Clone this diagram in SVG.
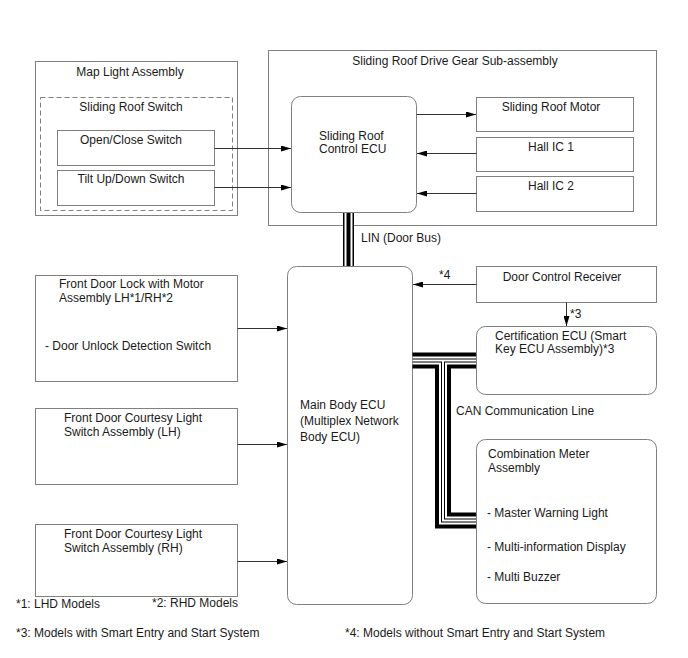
<svg xmlns="http://www.w3.org/2000/svg" width="688" height="658" viewBox="0 0 688 658">
<defs>
<marker id="ah" markerUnits="userSpaceOnUse" markerWidth="10" markerHeight="6" refX="10" refY="3" orient="auto">
<path d="M0,0 L10,3 L0,6 z" fill="#000"/>
</marker>
<style>
text{font-family:"Liberation Sans",Arial,sans-serif;font-size:12px;fill:#1a1a1a}
.box{fill:#fff;stroke:#808080;stroke-width:1}
.dash{fill:none;stroke:#808080;stroke-width:1;stroke-dasharray:5,3}
.c{text-anchor:middle}
.arr{fill:none;stroke:#333;stroke-width:1;marker-end:url(#ah)}
.b16{fill:none;stroke:#000;stroke-width:16;stroke-linejoin:miter}
.w8{fill:none;stroke:#fff;stroke-width:8;stroke-linejoin:miter}
.b4{fill:none;stroke:#000;stroke-width:4;stroke-linejoin:miter}
.w2{fill:none;stroke:#fff;stroke-width:2;stroke-linejoin:miter}
</style>
</defs>
<rect width="688" height="658" fill="#fff"/>

<g id="map-light-assembly">
<rect class="box" x="35.5" y="61.5" width="202" height="154"/>
<text class="c" x="130" y="76">Map Light Assembly</text>
</g>
<g id="sliding-roof-switch">
<rect class="dash" x="40.5" y="97.5" width="192" height="113"/>
<text class="c" x="131" y="111">Sliding Roof Switch</text>
</g>
<g id="open-close-switch">
<rect class="box" x="57.5" y="130.5" width="157" height="35"/>
<text class="c" x="131" y="144">Open/Close Switch</text>
</g>
<g id="tilt-switch">
<rect class="box" x="57.5" y="170.5" width="157" height="35"/>
<text class="c" x="131" y="183">Tilt Up/Down Switch</text>
</g>

<g id="drive-gear-sub-assembly">
<rect class="box" x="268.5" y="50.5" width="388" height="175"/>
<text class="c" x="455" y="65">Sliding Roof Drive Gear Sub-assembly</text>
</g>
<g id="sliding-roof-ecu">
<rect class="box" x="291.5" y="96.5" width="125" height="116" rx="9"/>
<text x="319" y="140">Sliding Roof</text>
<text x="319" y="153">Control ECU</text>
</g>
<g id="sliding-roof-motor">
<rect class="box" x="476.5" y="97.5" width="157" height="34"/>
<text class="c" x="551" y="111">Sliding Roof Motor</text>
</g>
<g id="hall-ic-1">
<rect class="box" x="476.5" y="137.5" width="157" height="34"/>
<text class="c" x="551" y="151">Hall IC 1</text>
</g>
<g id="hall-ic-2">
<rect class="box" x="476.5" y="176.5" width="157" height="35"/>
<text class="c" x="551" y="190">Hall IC 2</text>
</g>

<g id="main-body-ecu">
<rect class="box" x="287.5" y="266.5" width="125" height="338" rx="9"/>
<text x="300" y="409">Main Body ECU</text>
<text x="300" y="425">(Multiplex Network</text>
<text x="300" y="441">Body ECU)</text>
</g>
<g id="front-door-lock">
<rect class="box" x="35.5" y="275.5" width="202" height="106"/>
<text x="59" y="288">Front Door Lock with Motor</text>
<text x="59" y="302">Assembly LH*1/RH*2</text>
<text x="45" y="350">- Door Unlock Detection Switch</text>
</g>
<g id="courtesy-lh">
<rect class="box" x="35.5" y="408.5" width="202" height="76"/>
<text x="64" y="422">Front Door Courtesy Light</text>
<text x="64" y="436">Switch Assembly (LH)</text>
</g>
<g id="courtesy-rh">
<rect class="box" x="35.5" y="524.5" width="202" height="72"/>
<text x="64" y="538">Front Door Courtesy Light</text>
<text x="64" y="552">Switch Assembly (RH)</text>
</g>
<g id="door-control-receiver">
<rect class="box" x="476.5" y="266.5" width="180" height="36"/>
<text class="c" x="562" y="281">Door Control Receiver</text>
</g>
<g id="certification-ecu">
<rect class="box" x="476.5" y="326.5" width="180" height="68" rx="9"/>
<text x="495" y="340">Certification ECU (Smart</text>
<text x="495" y="353">Key ECU Assembly)*3</text>
</g>
<g id="combination-meter">
<rect class="box" x="476.5" y="439.5" width="180" height="164" rx="9"/>
<text x="488" y="458">Combination Meter</text>
<text x="488" y="472">Assembly</text>
<text x="487" y="517">- Master Warning Light</text>
<text x="487" y="551">- Multi-information Display</text>
<text x="487" y="581">- Multi Buzzer</text>
</g>

<g id="connectors">
<path class="arr" d="M214.5,148.5 H291"/>
<path class="arr" d="M214.5,187.5 H291"/>
<path class="arr" d="M416.5,114.5 H476"/>
<path class="arr" d="M476.5,153.5 H417"/>
<path class="arr" d="M476.5,193.5 H417"/>
<path class="arr" d="M237.5,328.5 H287"/>
<path class="arr" d="M237.5,444.5 H287"/>
<path class="arr" d="M237.5,561.5 H287"/>
<path class="arr" d="M476.5,284.5 H413"/>
<path class="arr" d="M566.5,302.5 V326"/>
<text x="439" y="279">*4</text>
<text x="570" y="318">*3</text>
<g id="lin-bus">
<path d="M348.5,213 V266" fill="none" stroke="#000" stroke-width="11"/>
<path d="M348.5,213 V266" fill="none" stroke="#fff" stroke-width="8"/>
<path d="M348.5,213 V266" fill="none" stroke="#000" stroke-width="4"/>
</g>
<text x="361" y="242">LIN (Door Bus)</text>
<g id="can-bus">
<path class="b16" d="M412.5,360.5 H476"/>
<path class="b16" d="M443,360.5 V520.5 H476"/>
<path class="w8" d="M412.5,360.5 H476"/>
<path class="w8" d="M443,360.5 V520.5 H476"/>
<path class="b4" d="M412.5,360.5 H476"/>
<path class="b4" d="M443,360.5 V520.5 H476"/>
<path class="w2" d="M412.5,360.5 H476"/>
<path class="w2" d="M443,360.5 V520.5 H476"/>
</g>
<text x="456" y="415">CAN Communication Line</text>
</g>

<g id="footnotes">
<text x="16" y="608">*1: LHD Models</text>
<text x="152" y="607">*2: RHD Models</text>
<text x="16" y="637">*3: Models with Smart Entry and Start System</text>
<text x="345" y="637">*4: Models without Smart Entry and Start System</text>
</g>
</svg>
